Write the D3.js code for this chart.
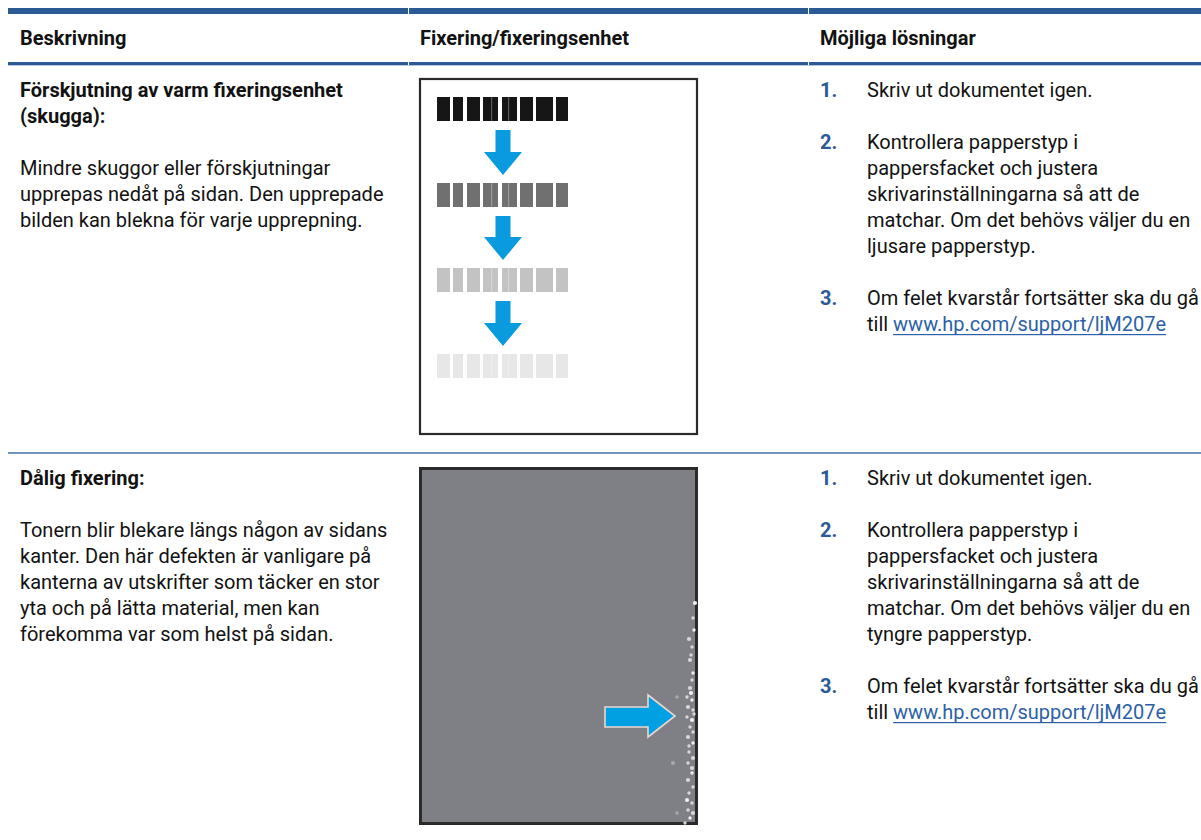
<!DOCTYPE html>
<html><head><meta charset="utf-8">
<script src="https://cdn.jsdelivr.net/npm/d3@7"></script>
<style>body{margin:0;background:#fff}</style></head>
<body><svg id="c" width="1201" height="840"></svg>
<script>
// ---------- data ----------
const headers = ["Beskrivning", "Fixering/fixeringsenhet", "Möjliga lösningar"];
const titles = [
  ["Förskjutning av varm fixeringsenhet", "(skugga):"],
  ["Dålig fixering:"]
];
const descriptions = [
  ["Mindre skuggor eller förskjutningar",
   "upprepas nedåt på sidan. Den upprepade",
   "bilden kan blekna för varje upprepning."],
  ["Tonern blir blekare längs någon av sidans",
   "kanter. Den här defekten är vanligare på",
   "kanterna av utskrifter som täcker en stor",
   "yta och på lätta material, men kan",
   "förekomma var som helst på sidan."]
];
const solutions = [
  [["Skriv ut dokumentet igen."],
   ["Kontrollera papperstyp i", "pappersfacket och justera", "skrivarinställningarna så att de",
    "matchar. Om det behövs väljer du en", "ljusare papperstyp."],
   ["Om felet kvarstår fortsätter ska du gå", "till "]],
  [["Skriv ut dokumentet igen."],
   ["Kontrollera papperstyp i", "pappersfacket och justera", "skrivarinställningarna så att de",
    "matchar. Om det behövs väljer du en", "tyngre papperstyp."],
   ["Om felet kvarstår fortsätter ska du gå", "till "]]
];
const linkText = "www.hp.com/support/ljM207e";
// illustration 1: fading repeated stripes (illustration units)
const stripeShades = ["#161616", "#6f6f6f", "#c3c3c3", "#e7e7e7"];
const stripeRowTops = [19, 105, 190, 276];
const blockStarts = [18, 34, 48, 64, 83, 101, 117, 137];
const blockEnds   = [31, 44, 61, 79, 98, 114, 134, 149];
// illustration 2: speckles along the right edge (illustration units)
const speckX = [276, 274, 273, 271, 274, 273, 271, 268, 273, 269, 274, 268, 273, 271, 274, 269, 274, 270, 274, 269, 273, 269, 274, 270, 268, 273, 269, 274, 271, 258, 254, 258, 275, 270, 272, 266, 272, 275, 270, 273];
const speckY = [136, 151, 180, 193, 206, 213, 221, 230, 233, 240, 243, 250, 253, 260, 265, 270, 276, 285, 291, 296, 306, 313, 320, 326, 333, 336, 343, 346, 351, 230, 296, 346, 163, 172, 188, 356, 226, 247, 279, 301];

// ---------- layout ----------
const svg = d3.select("#c");
const FONT = "Roboto, 'Open Sans', sans-serif";
const RULE = "#2b5a95";
const TEXT = "#121212";
const edges = [8, 408, 808, 1201];
const colX = [20, 420, 820];
const lineH = 26;
const rowBase = [97, 485];
const lineY = d3.scaleLinear().domain([0, 1]);

const defs = svg.append("defs");
defs.append("filter").attr("id", "soft").attr("x", "-10%").attr("y", "-10%").attr("width", "120%").attr("height", "120%")
  .append("feGaussianBlur").attr("stdDeviation", 0.7);

// header rules (segments per cell)
const cells = d3.pairs(edges);
svg.selectAll(".topRule").data(cells).join("rect")
  .attr("x", (d, i) => d[0] + (i ? 1 : 0)).attr("y", 8)
  .attr("width", (d, i) => d[1] - d[0] - (i ? 1 : 0)).attr("height", 6)
  .attr("fill", RULE);
svg.selectAll(".botRule").data(cells).join("rect")
  .attr("x", (d, i) => d[0] + (i ? 1 : 0)).attr("y", 62)
  .attr("width", (d, i) => d[1] - d[0] - (i ? 1 : 0)).attr("height", 3)
  .attr("fill", RULE);
svg.append("rect").attr("x", 8).attr("y", 65).attr("width", 1193).attr("height", 1).attr("fill", "#b9c8de");
// row separator
svg.append("rect").attr("x", 8).attr("y", 452).attr("width", 1193).attr("height", 2).attr("fill", "#7393c3");

// header text
svg.selectAll(".hdr").data(headers).join("text")
  .attr("x", (d, i) => colX[i]).attr("y", 45)
  .style("font-family", FONT).style("font-size", "20px").style("font-weight", "bold")
  .attr("fill", TEXT).text(d => d);

// left column text
titles.forEach((t, r) => {
  const y = lineY.copy().range([rowBase[r], rowBase[r] + lineH]);
  const lines = t.map((s, i) => ({s, i, bold: true}))
    .concat(descriptions[r].map((s, i) => ({s, i: t.length + 1 + i, bold: false})));
  svg.selectAll(".left" + r).data(lines).join("text")
    .attr("x", colX[0]).attr("y", d => y(d.i))
    .style("font-family", FONT).style("font-size", "20px")
    .style("font-weight", d => d.bold ? "bold" : "normal")
    .attr("fill", TEXT).text(d => d.s);
});

// right column solutions
solutions.forEach((items, r) => {
  const y = lineY.copy().range([rowBase[r], rowBase[r] + lineH]);
  let idx = 0;
  items.forEach((lines, k) => {
    svg.append("text").attr("x", colX[2]).attr("y", y(idx))
      .style("font-family", FONT).style("font-size", "20px").style("font-weight", "bold")
      .attr("fill", RULE).text((k + 1) + ".");
    lines.forEach((s, j) => {
      const t = svg.append("text").attr("x", 867).attr("y", y(idx + j))
        .style("font-family", FONT).style("font-size", "20px").attr("fill", TEXT)
        .attr("xml:space", "preserve").text(s);
      if (k === items.length - 1 && j === lines.length - 1) {
        const w = t.node().getComputedTextLength();
        const lx = 867 + w;
        const lt = svg.append("text").attr("x", lx).attr("y", y(idx + j))
          .style("font-family", FONT).style("font-size", "20px").attr("fill", "#2c5fa8").text(linkText);
        const lw = lt.node().getComputedTextLength();
        svg.append("rect").attr("x", lx).attr("y", y(idx + j) + 3).attr("width", lw).attr("height", 1.2).attr("fill", "#2c5fa8");
      }
    });
    idx += lines.length + 1;
  });
});

// ---------- illustration 1 ----------
const ix = d3.scaleLinear().domain([0, 279]).range([419, 698]);
const iy1 = d3.scaleLinear().domain([0, 357]).range([78, 435]);
const g1 = svg.append("g");
g1.append("rect").attr("x", ix(0) + 1).attr("y", iy1(0) + 1).attr("width", ix(279) - ix(0) - 2).attr("height", iy1(357) - iy1(0) - 2)
  .attr("fill", "#fff").attr("stroke", "#2a2a2a").attr("stroke-width", 2.2);
const blocks = blockStarts.map((s, i) => ({s, e: blockEnds[i]}));
const gs = g1.append("g").attr("filter", "url(#soft)");
stripeShades.forEach((c, r) => {
  gs.selectAll(".blk" + r).data(blocks).join("rect")
    .attr("x", d => ix(d.s)).attr("width", d => ix(d.e) - ix(d.s))
    .attr("y", iy1(stripeRowTops[r])).attr("height", iy1(24) - iy1(0))
    .attr("fill", c);
  // faint inner lines
  gs.selectAll(".inner" + r).data([72, 89]).join("rect")
    .attr("x", d => ix(d)).attr("width", 1.2)
    .attr("y", iy1(stripeRowTops[r])).attr("height", iy1(24) - iy1(0))
    .attr("fill", "#fff").attr("opacity", 0.3);
});
// down arrows between stripe rows
const arrowBlue = "#0a9ade";
d3.pairs(stripeRowTops).forEach(([a, b]) => {
  const cx = 84, top = a + 24 + 9, tip = b - 8, headTop = tip - 23;
  const pts = [[cx - 7.5, top], [cx + 7.5, top], [cx + 7.5, headTop], [cx + 19, headTop], [cx, tip], [cx - 19, headTop], [cx - 7.5, headTop]];
  g1.append("path").attr("d", d3.line().x(p => ix(p[0])).y(p => iy1(p[1]))(pts) + "Z").attr("fill", arrowBlue);
});

// ---------- illustration 2 ----------
const iy2 = d3.scaleLinear().domain([0, 358]).range([467, 825]);
const g2 = svg.append("g");
g2.append("rect").attr("x", ix(0) + 1.5).attr("y", iy2(0) + 1.5).attr("width", ix(279) - ix(0) - 3).attr("height", iy2(358) - iy2(0) - 3)
  .attr("fill", "#7f8085").attr("stroke", "#2b2b2b").attr("stroke-width", 3);
g2.selectAll(".speck").data(speckX.map((x, i) => ({x, y: speckY[i]}))).join("circle")
  .attr("cx", d => ix(d.x)).attr("cy", d => iy2(d.y)).attr("r", (d, i) => i % 3 === 0 ? 2.1 : 1.7)
  .attr("fill", (d, i) => i % 4 === 0 ? "#f5f5f5" : "#dcdcdc").attr("opacity", d => d.x < 262 ? 0.45 : 0.95);
const rpts = [[186, 240], [229, 240], [229, 228], [256, 249], [229, 270], [229, 260], [186, 260]];
g2.append("path").attr("d", d3.line().x(p => ix(p[0])).y(p => iy2(p[1]))(rpts) + "Z")
  .attr("fill", "#00a0e2").attr("stroke", "#ecd6cf").attr("stroke-width", 1.6).attr("stroke-linejoin", "miter");
</script></body></html>
